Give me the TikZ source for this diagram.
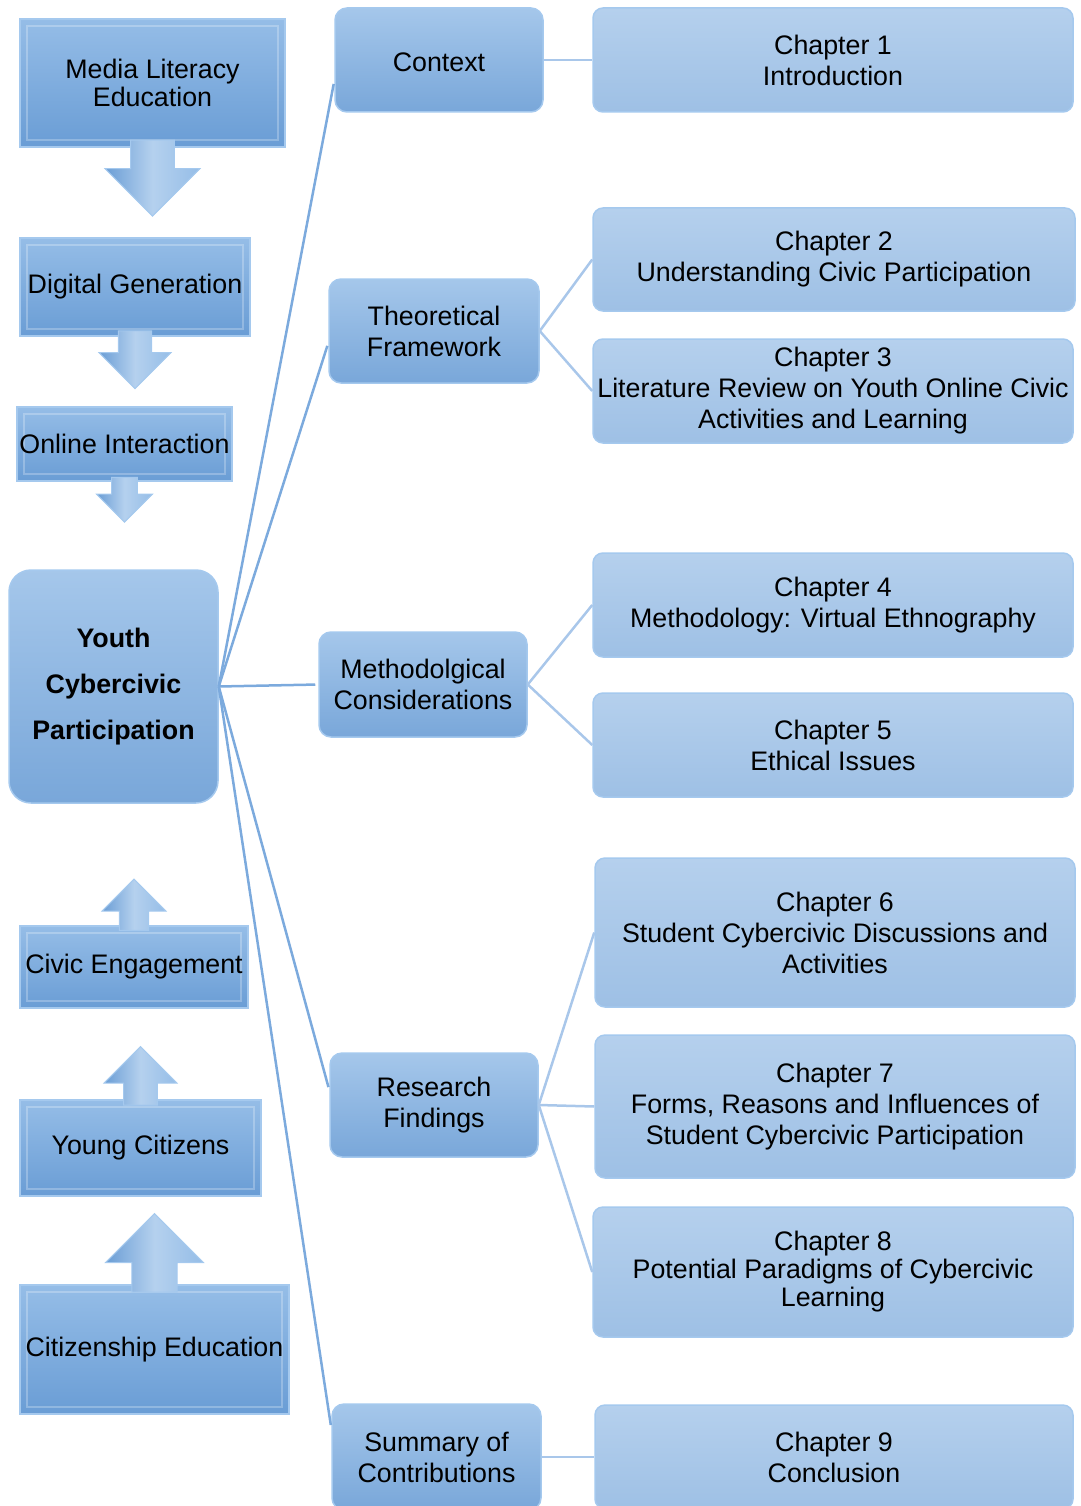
\documentclass[tikz,border=0pt]{standalone}
\usepackage{fontspec}
\setmainfont{Liberation Sans}
\definecolor{BleuTrait}{HTML}{7CAADD}
\definecolor{BleuTraitClair}{HTML}{A9C7EA}
\definecolor{BleuHaut}{HTML}{95BDE7}
\definecolor{BleuBas}{HTML}{6A9DD5}
\definecolor{BleuPaleHaut}{HTML}{B5D0ED}
\definecolor{BleuPaleBas}{HTML}{9EC0E5}
\definecolor{BleuBord}{HTML}{A5C9EE}
\usetikzlibrary{positioning}
\newcommand{\Fleche}{(-0.23,-0.08) -- (-0.23,0.22) -- (-0.5,0.22) -- (0,0.72) -- (0.5,0.22) -- (0.23,0.22) -- (0.23,-0.08) -- cycle}
\tikzset{
	biseau/.style={draw=BleuBord, line width=1.5pt, top color=BleuHaut, bottom color=BleuBas,
		inner sep=0pt, align=center, font=\fontsize{26.8}{28}\selectfont,
		path picture={\draw[white, opacity=.25, line width=1.5pt]
			([shift={(7pt,-7pt)}]path picture bounding box.north west) rectangle
			([shift={(-7pt,7pt)}]path picture bounding box.south east);}},
	bloc/.style={draw=BleuBord, line width=1.5pt, rounded corners=12pt,
		top color=BleuHaut!85!white, bottom color=BleuBas!90!white,
		inner sep=0pt, align=center, font=\fontsize{26.8}{31}\selectfont,
		execute at begin node={\rule{0pt}{24pt}}},
	chapitre/.style={bloc, rounded corners=10pt, top color=BleuPaleHaut, bottom color=BleuPaleBas},
	fleche/.style={draw=BleuBord, line width=1pt, left color=BleuBas, right color=BleuHaut, middle color=BleuHaut!70!white},
	lien/.style={draw=BleuTrait, line width=2.5pt},
	lienclair/.style={draw=BleuTraitClair, line width=2.5pt}
}
\begin{document}
\begin{tikzpicture}[x=1pt, y=-1pt]
	\useasboundingbox (0,0) rectangle (1080,1506);
	% left column
	\node[biseau, minimum width=265pt, minimum height=128pt] (media) at (152.5,83) {Media Literacy\\Education};
	\node[biseau, minimum width=230pt, minimum height=98pt] (digital) at (135,287) {Digital Generation};
	\node[biseau, minimum width=215pt, minimum height=74pt] (online) at (124.5,444) {Online Interaction};
	\node[bloc, rounded corners=22pt, minimum width=209pt, minimum height=233pt,
		font=\fontsize{26.8}{46}\selectfont\bfseries] (youth) at (113.5,686.5) {Youth\\Cybercivic\\Participation};
	\node[biseau, minimum width=228pt, minimum height=82pt] (civic) at (134,967) {Civic Engagement};
	\node[biseau, minimum width=241pt, minimum height=96pt] (young) at (140.5,1148) {Young Citizens};
	\node[biseau, minimum width=269pt, minimum height=129pt] (citizen) at (154.5,1349.5) {Citizenship Education};
	
	\begin{scope}[shift={(media.south)}, scale=95]
		\draw[fleche] \Fleche;
	\end{scope}
	\begin{scope}[shift={(digital.south)}, scale=72]
		\draw[fleche] \Fleche;
	\end{scope}
	\begin{scope}[shift={(online.south)}, scale=56]
		\draw[fleche] \Fleche;
	\end{scope}
	\begin{scope}[shift={(civic.north)}, scale=64, yscale=-1]
		\draw[fleche] \Fleche;
	\end{scope}
	\begin{scope}[shift={(young.north)}, scale=73, yscale=-1]
		\draw[fleche] \Fleche;
	\end{scope}
	\begin{scope}[shift={(citizen.north)}, scale=98, yscale=-1]
		\draw[fleche] \Fleche;
	\end{scope}
	
	% middle column
	\node[bloc, minimum width=208pt, minimum height=104pt] (context) at (439,60) {Context};
	\node[bloc, minimum width=210pt, minimum height=104pt] (theory) at (434,331) {Theoretical\\Framework};
	\node[bloc, minimum width=208pt, minimum height=105pt] (method) at (423,684.5) {Methodolgical\\Considerations};
	\node[bloc, minimum width=208pt, minimum height=104pt] (research) at (434,1105) {Research\\Findings};
	\node[bloc, minimum width=209pt, minimum height=106pt] (summary) at (436.5,1457) {Summary of\\Contributions};
	
	% chapters
	\node[chapitre, minimum width=480pt, minimum height=104pt] (ch1) at (833,60) {Chapter 1\\Introduction};
	\node[chapitre, minimum width=482pt, minimum height=103pt] (ch2) at (834,259.5) {Chapter 2\\Understanding Civic Participation};
	\node[chapitre, minimum width=480pt, minimum height=104pt] (ch3) at (833,391) {Chapter 3\\Literature Review on Youth Online Civic\\Activities and Learning};
	\node[chapitre, minimum width=480pt, minimum height=104pt] (ch4) at (833,605) {Chapter 4\\Methodology: Virtual Ethnography};
	\node[chapitre, minimum width=480pt, minimum height=104pt] (ch5) at (833,745) {Chapter 5\\Ethical Issues};
	\node[chapitre, minimum width=480pt, minimum height=149pt] (ch6) at (835,932.5) {Chapter 6\\Student Cybercivic Discussions and\\Activities};
	\node[chapitre, minimum width=480pt, minimum height=143pt] (ch7) at (835,1106.5) {Chapter 7\\Forms, Reasons and Influences of\\Student Cybercivic Participation};
	\node[chapitre, minimum width=480pt, minimum height=130pt, font=\fontsize{26.8}{28}\selectfont] (ch8) at (833,1272) {Chapter 8\\Potential Paradigms of Cybercivic\\Learning};
	\node[chapitre, minimum width=478pt, minimum height=104pt] (ch9) at (834,1457) {Chapter 9\\Conclusion};
	
	% links
	\draw[lien, shorten >=3pt] (youth.east) -- ([shift={(0,21)}]context.west);
	\draw[lien, shorten >=3pt] (youth.east) -- ([shift={(0,12)}]theory.west);
	\draw[lien, shorten >=3pt] (youth.east) -- (method.west);
	\draw[lien, shorten >=3pt] (youth.east) -- ([shift={(0,-15)}]research.west);
	\draw[lien, shorten >=3pt] (youth.east) -- ([shift={(0,-29)}]summary.west);
	\draw[lienclair] (context.east) -- (ch1.west);
	\draw[lienclair] (theory.east) -- (ch2.west);
	\draw[lienclair] (theory.east) -- (ch3.west);
	\draw[lienclair] (method.east) -- (ch4.west);
	\draw[lienclair] (method.east) -- (ch5.west);
	\draw[lienclair] (research.east) -- (ch6.west);
	\draw[lienclair] (research.east) -- (ch7.west);
	\draw[lienclair] (research.east) -- (ch8.west);
	\draw[lienclair] (summary.east) -- (ch9.west);
\end{tikzpicture}
\end{document}
